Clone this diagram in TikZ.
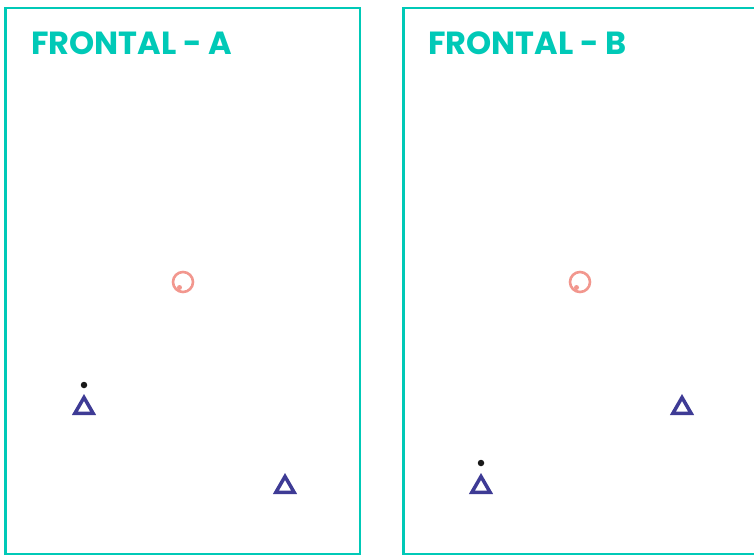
\documentclass[tikz,border=0pt]{standalone}
\usetikzlibrary{shapes.geometric}
\usepackage{fontspec}
\setmainfont{Lato}
\newfontfamily\tfont{Poppins}
\definecolor{teal1}{HTML}{00C9B7}
\definecolor{salmon}{HTML}{F2978E}
\definecolor{navy1}{HTML}{3E3B95}
\begin{document}
\begin{tikzpicture}[x=1pt,y=-1pt,
  panel/.style={draw=teal1,line width=2.6pt},
  title/.style={anchor=base west,inner sep=0pt,text=teal1,font=\tfont\fontsize{32}{32}\selectfont\bfseries},
  ball/.style={circle,draw=salmon,line width=2.6pt,minimum size=20pt,inner sep=0pt},
  balldot/.style={circle,fill=salmon,minimum size=5pt,inner sep=0pt},
  player/.style={regular polygon,regular polygon sides=3,draw=navy1,line width=3.5pt,minimum size=21pt,inner sep=0pt},
  pdot/.style={circle,fill=black!90,minimum size=6.5pt,inner sep=0pt}]
\useasboundingbox (0,0) rectangle (754,555);
\clip (0,0) rectangle (754,555);
\draw[panel] (5.5,8) rectangle (360,554);
\draw[panel] (403.5,8) rectangle (790,554);
\node[title] (ta) at (31,54) {FRONTAL - A};
\node[title] (tb) at (428,54) {FRONTAL - B};
% panel A
\node[ball] (ca) at (183,282) {};
\node[balldot] (cda) at (179.5,287.5) {};
\node[player] (a1) at (84,408) {};
\node[pdot] (da1) at (84,385) {};
\node[player] (a2) at (285,487) {};
% panel B
\node[ball] (cb) at (580,282) {};
\node[balldot] (cdb) at (576.5,287.5) {};
\node[player] (b1) at (682,408) {};
\node[player] (b2) at (481,487) {};
\node[pdot] (db2) at (481,463) {};
\end{tikzpicture}
\end{document}
